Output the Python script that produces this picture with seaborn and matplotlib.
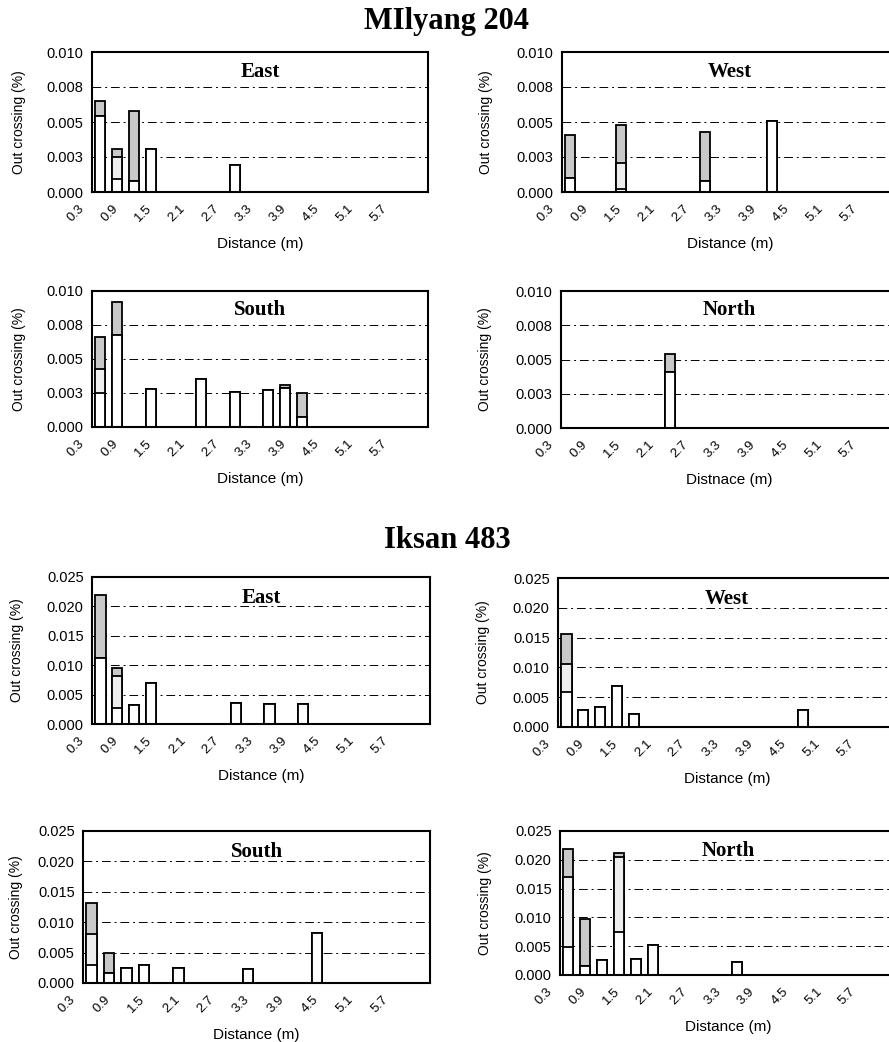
import numpy as np
import pandas as pd
import matplotlib
matplotlib.use("Agg")
import matplotlib.pyplot as plt
import seaborn as sns

# -------------------------- data --------------------------
# distance classes on the category axis (0.3 m steps)
distances = ["%.1f" % (0.3 * (i + 1)) for i in range(20)]
shown_ticks = distances[::2]

mil_yticks = [0.0, 0.0025, 0.005, 0.0075, 0.010]
mil_ylabels = ["0.000", "0.003", "0.005", "0.008", "0.010"]
iks_yticks = [0.0, 0.005, 0.010, 0.015, 0.020, 0.025]
iks_ylabels = ["0.000", "0.005", "0.010", "0.015", "0.020", "0.025"]

# each bar: distance, lower split, upper split, total (cumulative heights)
mil_east_dist = ["0.3", "0.6", "0.9", "1.2", "2.7"]
mil_east_low = [0.0054, 0.0009, 0.0008, 0.0031, 0.0019]
mil_east_mid = [0.0054, 0.0025, 0.0008, 0.0031, 0.0019]
mil_east_tot = [0.0065, 0.0031, 0.0058, 0.0031, 0.0019]

mil_west_dist = ["0.3", "1.2", "2.7", "3.9"]
mil_west_low = [0.0010, 0.0002, 0.0008, 0.0051]
mil_west_mid = [0.0010, 0.0021, 0.0008, 0.0051]
mil_west_tot = [0.0041, 0.0048, 0.0043, 0.0051]

mil_south_dist = ["0.3", "0.6", "1.2", "2.1", "2.7", "3.3", "3.6", "3.9"]
mil_south_low = [0.0025, 0.0068, 0.0028, 0.0035, 0.0026, 0.0027, 0.0029, 0.0007]
mil_south_mid = [0.0043, 0.0068, 0.0028, 0.0035, 0.0026, 0.0027, 0.0029, 0.0007]
mil_south_tot = [0.0066, 0.0092, 0.0028, 0.0035, 0.0026, 0.0027, 0.0031, 0.0025]

mil_north_dist = ["2.1"]
mil_north_low = [0.0041]
mil_north_mid = [0.0041]
mil_north_tot = [0.0054]

iks_east_dist = ["0.3", "0.6", "0.9", "1.2", "2.7", "3.3", "3.9"]
iks_east_low = [0.0113, 0.0027, 0.0033, 0.0069, 0.0036, 0.0034, 0.0034]
iks_east_mid = [0.0113, 0.0082, 0.0033, 0.0069, 0.0036, 0.0034, 0.0034]
iks_east_tot = [0.0219, 0.0096, 0.0033, 0.0069, 0.0036, 0.0034, 0.0034]

iks_west_dist = ["0.3", "0.6", "0.9", "1.2", "1.5", "4.5"]
iks_west_low = [0.0058, 0.0029, 0.0034, 0.0068, 0.0022, 0.0029]
iks_west_mid = [0.0106, 0.0029, 0.0034, 0.0068, 0.0022, 0.0029]
iks_west_tot = [0.0156, 0.0029, 0.0034, 0.0068, 0.0022, 0.0029]

iks_south_dist = ["0.3", "0.6", "0.9", "1.2", "1.8", "3.0", "4.2"]
iks_south_low = [0.0030, 0.0016, 0.0024, 0.0030, 0.0024, 0.0023, 0.0083]
iks_south_mid = [0.0080, 0.0016, 0.0024, 0.0030, 0.0024, 0.0023, 0.0083]
iks_south_tot = [0.0132, 0.0049, 0.0024, 0.0030, 0.0024, 0.0023, 0.0083]

iks_north_dist = ["0.3", "0.6", "0.9", "1.2", "1.5", "1.8", "3.3"]
iks_north_low = [0.0049, 0.0015, 0.0026, 0.0075, 0.0027, 0.0052, 0.0023]
iks_north_mid = [0.0171, 0.0015, 0.0026, 0.0204, 0.0027, 0.0052, 0.0023]
iks_north_tot = [0.0218, 0.0097, 0.0026, 0.0211, 0.0027, 0.0052, 0.0023]

# -------------------------- style --------------------------
sns.set_theme(style="white")
plt.rcParams["font.family"] = ["Liberation Sans", "DejaVu Sans"]
plt.rcParams["text.color"] = "black"
plt.rcParams["axes.labelcolor"] = "black"
plt.rcParams["xtick.color"] = "black"
plt.rcParams["ytick.color"] = "black"

W, H = 889, 1042
fig = plt.figure(figsize=(W / 100, H / 100), dpi=100)


def panel(box, title, dist, low, mid, tot, yticks, ylabels,
          xlabel="Distance (m)", ylab_gap=66):
    left, top, right, bottom = box
    ax = fig.add_axes([left / W, 1 - bottom / H, (right - left) / W, (bottom - top) / H])

    df = pd.DataFrame({"dist": distances, "low": 0.0, "mid": 0.0, "tot": 0.0})
    idx = [distances.index(d) for d in dist]
    df.loc[idx, "low"] = low
    df.loc[idx, "mid"] = mid
    df.loc[idx, "tot"] = tot

    kw = dict(order=distances, width=0.6, edgecolor="black", linewidth=1.3,
              ax=ax, errorbar=None, saturation=1)
    sns.barplot(data=df, x="dist", y="tot", color="#c9c9c9", **kw)
    sns.barplot(data=df, x="dist", y="mid", color="#eeeeee", **kw)
    sns.barplot(data=df, x="dist", y="low", color="white", **kw)

    ax.set_ylim(yticks[0], yticks[-1])
    ax.set_xlim(-0.5, len(distances) - 0.5)
    ax.set_yticks(yticks)
    ax.set_yticklabels(ylabels, fontsize=10.5)
    ax.set_xticks(range(0, len(distances), 2))
    ax.set_xticklabels([""] * len(shown_ticks))
    # Excel-style rotated labels sit a little left of their category
    for i, lab in zip(range(0, len(distances), 2), shown_ticks):
        ax.annotate(lab, xy=(i, 0), xycoords=("data", "axes fraction"),
                    xytext=(-18, -15), textcoords="offset pixels",
                    ha="right", va="center", rotation=45,
                    rotation_mode="anchor", fontsize=9.5)
    ax.tick_params(axis="both", length=3, width=0.8, color="black", pad=3)

    ax.set_axisbelow(True)
    ax.yaxis.grid(True, color="black", linewidth=0.7, linestyle=(0, (9, 4, 2, 4)))
    for s in ax.spines.values():
        s.set_visible(True)
        s.set_color("black")
        s.set_linewidth(1.5)

    ax.set_xlabel(xlabel, fontsize=11)
    ax.set_ylabel("Out crossing (%)", fontsize=10)
    hpx = bottom - top
    wpx = right - left
    ax.xaxis.set_label_coords(0.5, -45 / hpx)
    ax.yaxis.set_label_coords(-ylab_gap / wpx, 0.5)

    ax.text(0.5, 0.86, title, transform=ax.transAxes, ha="center", va="center",
            fontsize=15, fontweight="bold", family="Liberation Serif")
    return ax


# -------------------------- panels --------------------------
panel((92, 52, 428, 192), "East", mil_east_dist, mil_east_low, mil_east_mid,
      mil_east_tot, mil_yticks, mil_ylabels)
panel((562, 52, 898, 192), "West", mil_west_dist, mil_west_low, mil_west_mid,
      mil_west_tot, mil_yticks, mil_ylabels, ylab_gap=69)
panel((92, 291, 428, 427), "South", mil_south_dist, mil_south_low, mil_south_mid,
      mil_south_tot, mil_yticks, mil_ylabels)
panel((561, 291, 897, 428), "North", mil_north_dist, mil_north_low, mil_north_mid,
      mil_north_tot, mil_yticks, mil_ylabels, xlabel="Distnace (m)", ylab_gap=69)

panel((92, 577, 430, 724), "East", iks_east_dist, iks_east_low, iks_east_mid,
      iks_east_tot, iks_yticks, iks_ylabels, ylab_gap=68)
panel((558, 578, 896, 727), "West", iks_west_dist, iks_west_low, iks_west_mid,
      iks_west_tot, iks_yticks, iks_ylabels, ylab_gap=68)
panel((83, 831, 430, 983), "South", iks_south_dist, iks_south_low, iks_south_mid,
      iks_south_tot, iks_yticks, iks_ylabels, ylab_gap=60)
panel((560, 831, 897, 975), "North", iks_north_dist, iks_north_low, iks_north_mid,
      iks_north_tot, iks_yticks, iks_ylabels, ylab_gap=68)

fig.text(447 / W, 1 - 22 / H, "MIlyang 204", ha="center", va="center",
         fontsize=22, fontweight="bold", family="Liberation Serif")
fig.text(447 / W, 1 - 541 / H, "Iksan 483", ha="center", va="center",
         fontsize=22, fontweight="bold", family="Liberation Serif")

fig.savefig("out.png", dpi=100, facecolor="white")
